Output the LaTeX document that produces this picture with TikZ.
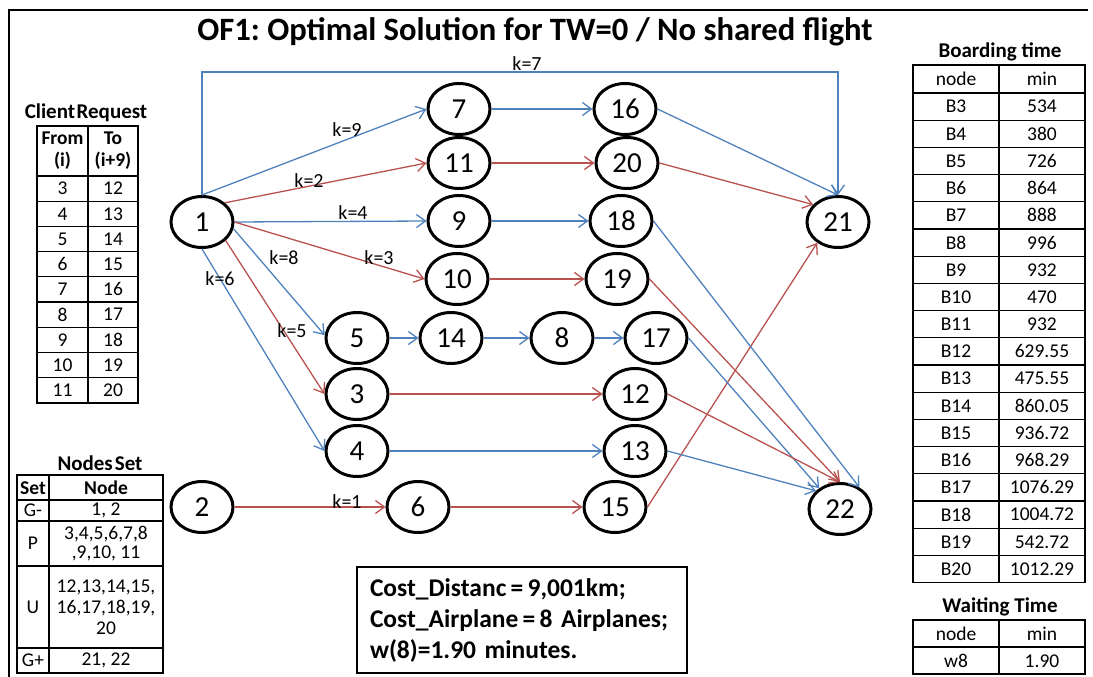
\documentclass[tikz,border=0pt]{standalone}
\usepackage{fontspec}
\setmainfont{Carlito}
\usetikzlibrary{arrows.meta,shapes.geometric}
\definecolor{eblue}{RGB}{79,129,189}
\definecolor{ered}{RGB}{185,82,78}
\frenchspacing
\begin{document}
\begin{tikzpicture}[x=1pt,y=-1pt,
  gnode/.style={ellipse,draw,line width=3pt,minimum width=62pt,minimum height=51pt,inner sep=0pt,font=\fontsize{29}{29}\selectfont},
  be/.style={eblue,line width=1.3pt,-{Straight Barb[length=9pt,width=13pt]}},
  re/.style={ered,line width=1.3pt,-{Straight Barb[length=9pt,width=13pt]}},
  kl/.style={font=\fontsize{20}{20}\selectfont,inner sep=1pt},
  ttl/.style={font=\bfseries\fontsize{21}{21}\selectfont,inner sep=0pt},
  tc/.style={font=\fontsize{19.5}{19.5}\selectfont,inner sep=0pt},
  tcb/.style={font=\bfseries\fontsize{19.5}{22}\selectfont,inner sep=0pt,align=center},
  grd/.style={draw,line width=1.2pt}]
\useasboundingbox (0,0) rectangle (1093,677);
% frame
\draw[line width=2.5pt] (1088,10) -- (9,10) -- (9,677);
% title
\node[font=\bfseries\fontsize{32.6}{33}\selectfont,inner sep=0pt] (title) at (535,32) {OF1: Optimal Solution for TW=0 / No shared flight};

% graph nodes
\node[gnode] (n1) at (202,222) {1};
\node[gnode] (n2) at (202,507) {2};
\node[gnode] (n7) at (459,109) {7};
\node[gnode] (n11) at (459,163) {11};
\node[gnode] (n9) at (459,221) {9};
\node[gnode] (n10) at (457,279) {10};
\node[gnode] (n5) at (357,338) {5};
\node[gnode] (n14) at (451,338) {14};
\node[gnode] (n8) at (562,338) {8};
\node[gnode] (n17) at (656,338) {17};
\node[gnode] (n3) at (357,394) {3};
\node[gnode] (n4) at (357,451) {4};
\node[gnode] (n6) at (418,507) {6};
\node[gnode] (n16) at (625,109) {16};
\node[gnode] (n20) at (627,163) {20};
\node[gnode] (n18) at (621,221) {18};
\node[gnode] (n19) at (617,279) {19};
\node[gnode] (n12) at (635,394) {12};
\node[gnode] (n13) at (635,451) {13};
\node[gnode] (n15) at (615,507) {15};
\node[gnode] (n21) at (838,222) {21};
\node[gnode] (n22) at (840,509) {22};

% edges from 1
\draw[be] (n1.north) -- (n1.north |- 0,72) -| (n21.north);
\draw[be] (n1.north) -- (n7.west);
\draw[re] (n1.40) -- (n11.west);
\draw[be] (n1.east) -- (n9.west);
\draw[re] (n1.east) -- (n10.west);
\draw[be] (n1.-12) -- (n5.175);
\draw[re] (n1.-38) -- (n3.west);
\draw[be] (n1.south) -- (n4.west);
% chains
\draw[be] (n7) -- (n16);
\draw[re] (n11) -- (n20);
\draw[be] (n9) -- (n18);
\draw[re] (n10) -- (n19);
\draw[be] (n5) -- (n14);
\draw[be] (n14) -- (n8);
\draw[be] (n8) -- (n17);
\draw[re] (n3) -- (n12);
\draw[be] (n4) -- (n13);
\draw[re] (n2) -- (n6);
\draw[re] (n6) -- (n15);
% to sinks
\draw[be] (n16.east) -- (n21.north);
\draw[re] (n20.east) -- (n21.145);
\draw[re] (n15.east) -- (n21.225);
\draw[be] (n18.east) -- (n22.48);
\draw[re] (n19.east) -- (n22.north);
\draw[be] (n17.east) -- (n22.135);
\draw[re] (n12.east) -- (n22.north);
\draw[be] (n13.east) -- (n22.143);

% k labels
\node[kl] (k7) at (527,64) {k=7};
\node[kl] (k9) at (347,130) {k=9};
\node[kl] (k2) at (309,181) {k=2};
\node[kl] (k4) at (353,213) {k=4};
\node[kl] (k3) at (379,258) {k=3};
\node[kl] (k8) at (284,258) {k=8};
\node[kl] (k6) at (220,279) {k=6};
\node[kl] (k5) at (292,331) {k=5};
\node[kl] (k1) at (347,502) {k=1};

% Client Request table
\node[ttl] (crt) at (86,113) {Client\hspace{1.5pt}Request};
\draw[grd] (37,126) rectangle (138,403);
\draw[grd] (88,126) -- (88,403);
\draw[grd] (37,176) -- (138,176);
\foreach \r in {1,...,8} { \draw[grd] (37,{176+25.2*\r}) -- (138,{176+25.2*\r}); }
\node[tcb] (crfrom) at (62.5,151) {From\\(i)};
\node[tcb] (crto) at (113,151) {To\\(i+9)};
\foreach \f [count=\r from 0] in {3,...,11} {
  \pgfmathtruncatemacro\tv{\f+9}
  \node[tc] (cf\f) at (62.5,{188.6+25.2*\r}) {\f};
  \node[tc] (ct\f) at (113,{188.6+25.2*\r}) {\tv};
}

% Nodes Set table
\node[ttl] (nst) at (100,463) {Nodes\hspace{2pt}Set};
\draw[grd] (17,475) rectangle (163,673);
\draw[grd] (49,475) -- (49,673);
\foreach \yy in {500,521,566,648} { \draw[grd] (17,\yy) -- (163,\yy); }
\node[tcb] (nsh1) at (33,488) {Set};
\node[tcb] (nsh2) at (106,488) {Node};
\node[tc] (nsg1) at (33,510.5) {G-};
\node[tc] (nsg1v) at (106,510.5) {1, 2};
\node[tc] (nsp) at (33,543.5) {P};
\node[tc,align=center,font=\fontsize{19.5}{19}\selectfont] (nspv) at (106,543.5) {3,4,5,6,7,8\\,9,10, 11};
\node[tc] (nsu) at (33,607) {U};
\node[tc,align=center,font=\fontsize{19.5}{21}\selectfont] (nsuv) at (106,607) {12,13,14,15,\\16,17,18,19,\\20};
\node[tc] (nsg2) at (33,660.5) {G+};
\node[tc] (nsg2v) at (106,660.5) {21, 22};

% Boarding time table
\node[ttl] (btt) at (1000,52) {Boarding time};
\draw[grd] (913,65) rectangle (1085,582.6);
\draw[grd] (999,65) -- (999,582.6);
\node[tc] (bth1) at (956,79) {node};
\node[tc] (bth2) at (1042,79) {min};
\foreach \lab/\val [count=\r from 0] in {B3/534,B4/380,B5/726,B6/864,B7/888,B8/996,B9/932,B10/470,B11/932,B12/629.55,B13/475.55,B14/860.05,B15/936.72,B16/968.29,B17/1076.29,B18/1004.72,B19/542.72,B20/1012.29} {
  \draw[grd] (913,{93+27.2*\r}) -- (1085,{93+27.2*\r});
  \node[tc] (bl\r) at (956,{106.6+27.2*\r}) {\lab};
  \node[tc] (bv\r) at (1042,{106.6+27.2*\r}) {\val};
}

% Waiting time table
\node[ttl] (wtt) at (1000,607) {Waiting Time};
\draw[grd] (913,620) rectangle (1085,674);
\draw[grd] (999,620) -- (999,674);
\draw[grd] (913,647) -- (1085,647);
\node[tc] (wth1) at (956,634) {node};
\node[tc] (wth2) at (1042,634) {min};
\node[tc] (wl) at (956,661) {w8};
\node[tc] (wv) at (1042,661) {1.90};

% Cost box
\node[draw,line width=2pt,minimum width=330pt,minimum height=106pt,text width=304pt,inner xsep=13pt,align=left,
  font=\bfseries\fontsize{25.5}{31}\selectfont] (cost) at (522,620)
  {Cost\_Distanc\,=\,9,001km;\\Cost\_Airplane\,=\,8 Airplanes;\\w(8)=1.90 minutes.};
\end{tikzpicture}
\end{document}
